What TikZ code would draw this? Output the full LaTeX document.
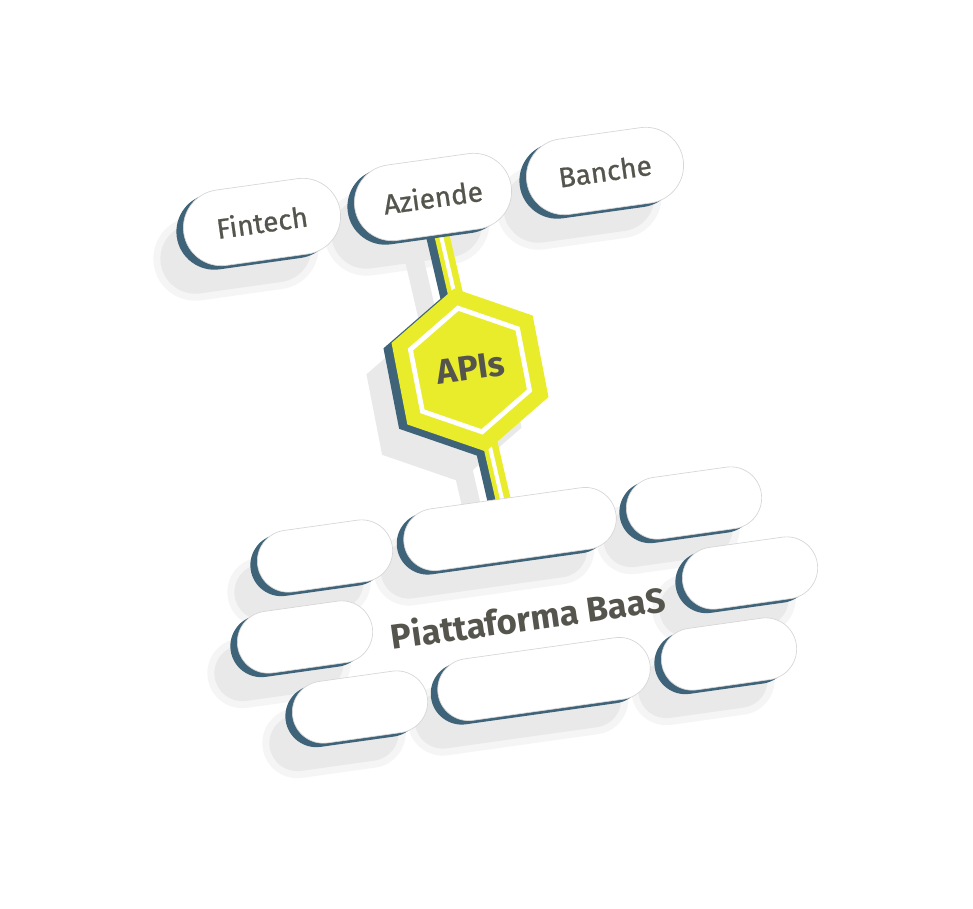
\documentclass[tikz,border=0pt]{standalone}
\usepackage{fontspec}
\setmainfont{Fira Sans}
\usetikzlibrary{shapes.misc}
\definecolor{ylw}{HTML}{E9EC2B}
\definecolor{dkb}{HTML}{3F6479}
\definecolor{txt}{HTML}{55554E}
\definecolor{gsa}{HTML}{F5F5F5}
\definecolor{gsb}{HTML}{E9E9E9}
\definecolor{pillline}{HTML}{D6D6D6}
\pgfdeclarelayer{bg}\pgfdeclarelayer{conn}\pgfdeclarelayer{shd}
\pgfsetlayers{bg,conn,shd,main}
\tikzset{
  pillbase/.style={rounded rectangle, rotate=8, inner sep=0pt},
  pilltext/.style={text=txt, font=\fontsize{21}{24}\selectfont\addfontfeatures{FakeBold=0.8}},
  bigtext/.style={text=txt, rotate=8, font=\bfseries\fontsize{26}{30}\selectfont},
}
% name, x, y, L, h, text
\newcommand\pillnode[6]{%
  \begin{pgfonlayer}{bg}
    \node[pillbase, fill=gsa, minimum width={(#4+8)*0.75pt}, minimum height={(#5+8)*0.75pt}] (#1-ga) at ({#2-26},{#3+31}) {};
    \node[pillbase, fill=gsb, minimum width={(#4-6)*0.75pt}, minimum height={(#5-6)*0.75pt}] (#1-gb) at ({#2-26},{#3+31}) {};
  \end{pgfonlayer}
  \begin{pgfonlayer}{shd}
    \node[pillbase, fill=dkb, minimum width={#4*0.75pt}, minimum height={#5*0.75pt}] (#1-d) at ({#2-7},{#3+4}) {};
    \node[pillbase, pilltext, fill=white, draw=pillline, line width=0.5pt, minimum width={#4*0.75pt}, minimum height={#5*0.75pt}] (#1) at (#2,#3) {#6};
  \end{pgfonlayer}
}
% style, radius, centre
\newcommand\hexshape[3]{\path[#1] ([shift={(-101:#2)}]#3) -- ([shift={(-161:#2)}]#3) -- ([shift={(-221:#2)}]#3) -- ([shift={(-281:#2)}]#3) -- ([shift={(-341:#2)}]#3) -- ([shift={(-41:#2)}]#3) -- cycle;}
\begin{document}
\begin{tikzpicture}[x=0.75pt,y=-0.75pt]
\useasboundingbox (0,0) rectangle (973,908);
\begin{pgfonlayer}{bg}
  \fill[white] (0,0) rectangle (973,908);
\end{pgfonlayer}

% top pills
\pillnode{fintech}{262}{222}{158}{76}{Fintech}
\pillnode{aziende}{433}{197}{158}{76}{Aziende}
\pillnode{banche}{605}{171}{158}{76}{Banche}

% platform pills
\pillnode{pa}{325}{556}{136}{62}{}
\pillnode{pb}{510}{529}{214}{62}{}
\pillnode{pc}{694}{503}{136}{62}{}
\pillnode{pd}{305}{637}{136}{62}{}
\pillnode{pe}{750}{573}{136}{62}{}
\pillnode{pf}{360}{707}{136}{62}{}
\pillnode{pg}{544}{679}{214}{62}{}
\pillnode{ph}{729}{654}{136}{62}{}

\node[bigtext] (baas) at (528,617) {Piattaforma BaaS};

% connector
\begin{pgfonlayer}{bg}
  \draw[gsb, line width=14pt] ([shift={(-26,31)}]aziende.center) -- ([shift={(-26,31)}]pb.center);
\end{pgfonlayer}
\begin{pgfonlayer}{conn}
  \draw[dkb, line width=11.25pt] ([shift={(-8,2)}]aziende.center) -- ([shift={(-8,2)}]pb.center);
  \draw[ylw, line width=11.25pt] (aziende.center) -- (pb.center);
  \draw[white, line width=3pt] ([shift={(-1,0)}]aziende.center) -- ([shift={(-1,0)}]pb.center);
\end{pgfonlayer}

% hexagon
\coordinate (hex) at (470,370);
\coordinate (hexg) at ([shift={(-26,31)}]hex);
\coordinate (hexd) at ([shift={(-9,5)}]hex);
\begin{pgfonlayer}{bg}
  \hexshape{fill=gsb}{82}{hexg}
\end{pgfonlayer}
\hexshape{fill=dkb}{82}{hexd}
\hexshape{fill=ylw}{83}{hex}
\hexshape{draw=white, line width=3.6pt, line join=miter}{63}{hex}
\node[bigtext] (apis) at (471,368) {APIs};
\end{tikzpicture}
\end{document}
